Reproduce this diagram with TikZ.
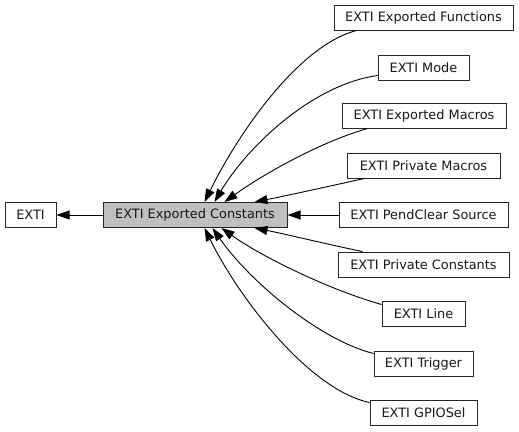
\documentclass[tikz,border=0pt]{standalone}
\usepackage{fontspec}
\setmainfont{DejaVu Sans}
\usetikzlibrary{arrows.meta}
\begin{document}
\begin{tikzpicture}[x=1pt,y=-1pt,
  box/.style={draw=black!85,line width=1pt,fill=white,inner sep=0pt,minimum height=25pt,
    font=\fontsize{12.9}{14}\selectfont,text=black!90},
  cur/.style={fill=black!25},
  edge/.style={draw=black,line width=0.9pt,-{Triangle[length=13pt,width=9pt]}}]
\useasboundingbox (0,0) rectangle (519,431);
\node[box,minimum width=51pt] (exti) at (30.5,215) {EXTI};
\node[box,cur,minimum width=184pt] (ec) at (195,215) {EXTI Exported Constants};
\node[box,minimum width=179pt] (f) at (423.5,17.5) {EXTI Exported Functions};
\node[box,minimum width=91pt] (mode) at (423.5,67.5) {EXTI Mode};
\node[box,minimum width=164pt] (emac) at (424,115.5) {EXTI Exported Macros};
\node[box,minimum width=153pt] (pmac) at (423.5,165.5) {EXTI Private Macros};
\node[box,minimum width=169pt] (pend) at (423.5,215) {EXTI PendClear Source};
\node[box,minimum width=171pt] (pcon) at (423.5,264.5) {EXTI Private Constants};
\node[box,minimum width=83pt] (line) at (423.5,313.5) {EXTI Line};
\node[box,minimum width=99pt] (trig) at (423.5,363.5) {EXTI Trigger};
\node[box,minimum width=107pt] (gpio) at (423.5,412.5) {EXTI GPIOSel};
\draw[edge] (ec.west) -- (exti.east);
\draw[edge] (pend.west) -- (ec.east);
\draw[edge] ([xshift=23pt]f.south west) .. controls (300,45) and (240,130) .. ([xshift=102pt]ec.north west);
\draw[edge] ([yshift=5pt]mode.south west) .. controls (310,85) and (245,150) .. ([xshift=112pt]ec.north west);
\draw[edge] ([xshift=26pt]emac.south west) .. controls (320,142) and (262,175) .. ([xshift=122pt]ec.north west);
\draw[edge] ([xshift=18pt]pmac.south west) .. controls (330,186) and (290,195) .. ([xshift=152pt]ec.north west);
\draw[edge] ([xshift=25pt]pcon.north west) .. controls (330,245) and (290,235) .. ([xshift=152pt]ec.south west);
\draw[edge] ([yshift=-4pt]line.north west) .. controls (330,290) and (262,257) .. ([xshift=119pt]ec.south west);
\draw[edge] ([yshift=-3pt]trig.north west) .. controls (320,340) and (250,282) .. ([xshift=110pt]ec.south west);
\draw[edge] ([yshift=-3pt]gpio.north west) .. controls (310,390) and (240,300) .. ([xshift=102pt]ec.south west);
\end{tikzpicture}
\end{document}
